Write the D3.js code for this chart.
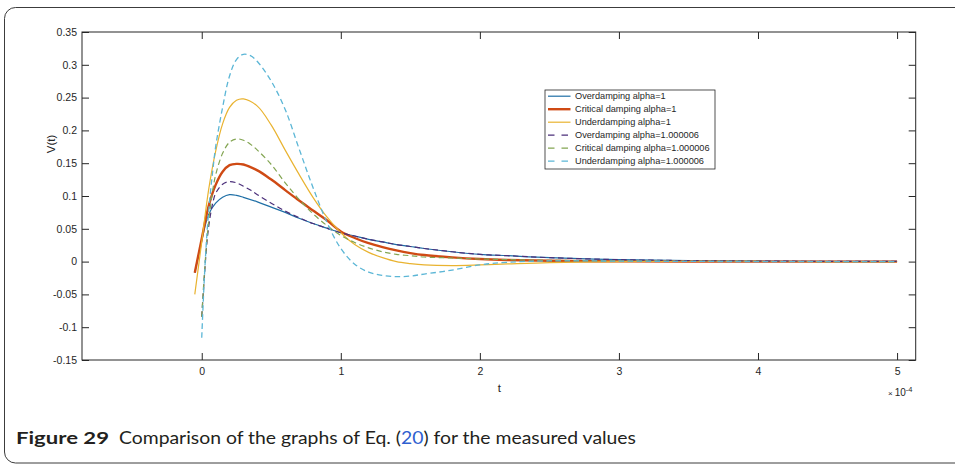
<!DOCTYPE html>
<html>
<head>
<meta charset="utf-8">
<script src="https://cdn.jsdelivr.net/npm/d3@7"></script>
<style>
  html, body { margin: 0; padding: 0; background: #fff; }
  svg { display: block; }
</style>
</head>
<body>
<div id="chart"></div>
<script>
// Time samples (units of 1e-4 s) for the two families of curves
const tSolid = [-0.05, 0, 0.05, 0.1, 0.15, 0.2, 0.25, 0.3, 0.4, 0.5, 0.6, 0.7, 0.8, 0.9, 1.0, 1.1, 1.2, 1.3, 1.4, 1.5, 1.6, 1.8, 2.0, 2.2, 2.5, 3.0, 3.5, 4.0, 4.5, 5.0];
const tDashed = [0, 0.02, 0.04, 0.06, 0.08, 0.1, 0.15, 0.2, 0.25, 0.3, 0.35, 0.4, 0.5, 0.6, 0.7, 0.8, 0.9, 1.0, 1.1, 1.2, 1.3, 1.4, 1.5, 1.6, 1.8, 2.0, 2.2, 2.5, 3.0, 3.5, 4.0, 4.5, 5.0];

// V(t) for alpha = 1
const overdamp1 = [-0.017, 0.032, 0.072, 0.089, 0.098, 0.102, 0.101, 0.098, 0.091, 0.083, 0.075, 0.066, 0.058, 0.051, 0.044, 0.039, 0.034, 0.030, 0.026, 0.023, 0.020, 0.015, 0.011, 0.009, 0.006, 0.003, 0.0015, 0.0008, 0.0004, 0.0002];
const critical1 = [-0.017, 0.035, 0.085, 0.117, 0.137, 0.147, 0.149, 0.148, 0.139, 0.125, 0.109, 0.093, 0.078, 0.063, 0.046, 0.036, 0.028, 0.022, 0.017, 0.013, 0.010, 0.0065, 0.004, 0.0025, 0.0012, 0.0004, 0.0001, 0, 0, 0];
const underdamp1 = [-0.05, 0.03, 0.11, 0.168, 0.21, 0.235, 0.246, 0.248, 0.237, 0.208, 0.170, 0.133, 0.098, 0.068, 0.044, 0.026, 0.014, 0.006, 0.0, -0.003, -0.005, -0.006, -0.005, -0.0035, -0.0015, 0.0, 0.0003, 0.0002, 0, 0];

// V(t) for alpha = 1.000006
const overdamp2 = [-0.084, -0.02, 0.035, 0.068, 0.09, 0.104, 0.118, 0.122, 0.120, 0.115, 0.109, 0.102, 0.089, 0.077, 0.067, 0.058, 0.051, 0.044, 0.039, 0.034, 0.030, 0.026, 0.023, 0.020, 0.015, 0.011, 0.009, 0.006, 0.003, 0.0015, 0.0008, 0.0004, 0.0002];
const critical2 = [-0.084, -0.015, 0.04, 0.08, 0.11, 0.132, 0.165, 0.182, 0.187, 0.185, 0.179, 0.170, 0.148, 0.120, 0.095, 0.073, 0.055, 0.040, 0.029, 0.021, 0.015, 0.011, 0.009, 0.007, 0.0055, 0.004, 0.003, 0.002, 0.001, 0.0005, 0.0002, 0.0001, 0];
const underdamp2 = [-0.116, -0.02, 0.05, 0.10, 0.14, 0.175, 0.235, 0.283, 0.308, 0.316, 0.314, 0.305, 0.275, 0.232, 0.172, 0.113, 0.060, 0.020, -0.004, -0.016, -0.021, -0.023, -0.022, -0.019, -0.013, -0.005, -0.001, 0.001, 0.0008, 0.0003, 0.0001, 0, 0];

const seriesNames = [
  "Overdamping alpha=1",
  "Critical damping alpha=1",
  "Underdamping alpha=1",
  "Overdamping alpha=1.000006",
  "Critical damping alpha=1.000006",
  "Underdamping alpha=1.000006"
];

const xTicks = [0, 1, 2, 3, 4, 5];
const yTicks = [-0.15, -0.1, -0.05, 0, 0.05, 0.1, 0.15, 0.2, 0.25, 0.3, 0.35];

const captionLabel = "Figure 29";
const captionText = ["Comparison of the graphs of Eq. (", "20", ") for the measured values"];

// Build series table from the arrays above
const series = [
  { name: seriesNames[0], t: tSolid,  v: overdamp1,  color: "#1f6fa6", width: 1.2, dash: null },
  { name: seriesNames[1], t: tSolid,  v: critical1,  color: "#cf4a14", width: 2.4, dash: null },
  { name: seriesNames[2], t: tSolid,  v: underdamp1, color: "#e9b330", width: 1.2, dash: null },
  { name: seriesNames[3], t: tDashed, v: overdamp2,  color: "#4b2f7a", width: 1.2, dash: "5.5,3.5" },
  { name: seriesNames[4], t: tDashed, v: critical2,  color: "#83a552", width: 1.2, dash: "5.5,3.5" },
  { name: seriesNames[5], t: tDashed, v: underdamp2, color: "#5bb6d6", width: 1.3, dash: "5.5,3.5" }
];

const W = 955, H = 465;
const plot = { left: 82, right: 915.7, top: 32, bottom: 360 };

const svg = d3.select("#chart").append("svg")
  .attr("width", W).attr("height", H)
  .style("font-family", "'Liberation Sans', Arial, sans-serif");

// Rounded figure frame
svg.append("rect")
  .attr("x", 4.5).attr("y", 7.5)
  .attr("width", 1000).attr("height", 455.5)
  .attr("rx", 11).attr("ry", 11)
  .attr("fill", "none")
  .attr("stroke", "#3c3c3c")
  .attr("stroke-width", 1);

const x = d3.scaleLinear().domain([-0.861, 5.134]).range([plot.left, plot.right]);
const y = d3.scaleLinear().domain([-0.15, 0.35]).range([plot.bottom, plot.top]);

const axisColor = "#262626";
const tickFont = "10.5px";

function styleAxis(g) {
  g.select(".domain").remove();
  g.selectAll(".tick line").attr("stroke", axisColor);
  g.selectAll(".tick text").attr("fill", axisColor)
    .style("font-size", tickFont)
    .style("font-family", "'Liberation Sans', Arial, sans-serif");
}

const fmtY = d => (d === 0 ? "0" : String(+d.toFixed(2)));

svg.append("g")
  .attr("transform", `translate(0,${plot.bottom})`)
  .call(d3.axisBottom(x).tickValues(xTicks).tickSize(-7).tickPadding(8).tickFormat(d3.format("d")))
  .call(styleAxis);

svg.append("g")
  .attr("transform", `translate(0,${plot.top})`)
  .call(d3.axisTop(x).tickValues(xTicks).tickSize(-7).tickFormat(""))
  .call(styleAxis);

svg.append("g")
  .attr("transform", `translate(${plot.left},0)`)
  .call(d3.axisLeft(y).tickValues(yTicks).tickSize(-7).tickPadding(5).tickFormat(fmtY))
  .call(styleAxis);

svg.append("g")
  .attr("transform", `translate(${plot.right},0)`)
  .call(d3.axisRight(y).tickValues(yTicks).tickSize(-7).tickFormat(""))
  .call(styleAxis);

// Axes box
svg.append("rect")
  .attr("x", plot.left).attr("y", plot.top)
  .attr("width", plot.right - plot.left).attr("height", plot.bottom - plot.top)
  .attr("fill", "none").attr("stroke", axisColor).attr("stroke-width", 1);

// Curves
const line = d3.line()
  .x(d => x(d[0]))
  .y(d => y(d[1]))
  .curve(d3.curveCatmullRom.alpha(0.5));

const curves = svg.append("g");
series.forEach(s => {
  const pts = s.t.map((t, i) => [t, s.v[i]]);
  curves.append("path")
    .attr("d", line(pts))
    .attr("fill", "none")
    .attr("stroke", s.color)
    .attr("stroke-width", s.width)
    .attr("stroke-dasharray", s.dash)
    .attr("stroke-linejoin", "round");
});

// Axis labels
svg.append("text")
  .attr("x", (plot.left + plot.right) / 2 + 0.5).attr("y", 392)
  .attr("text-anchor", "middle")
  .attr("fill", axisColor)
  .style("font-size", "11.5px")
  .text("t");

svg.append("text")
  .attr("transform", "translate(55,144) rotate(-90)")
  .attr("text-anchor", "middle")
  .attr("fill", axisColor)
  .style("font-size", "11.5px")
  .text("V(t)");

// Exponent label for the t axis
const expo = svg.append("text")
  .attr("x", 888).attr("y", 396)
  .attr("fill", axisColor)
  .style("font-size", "10px");
expo.append("tspan").style("font-size", "8px").text("\u00d7");
expo.append("tspan").attr("dx", 2).text("10");
expo.append("tspan").attr("dy", -4).style("font-size", "7.5px").text("-4");

// Legend
const legend = svg.append("g").attr("transform", "translate(545,90)");
legend.append("rect")
  .attr("width", 170).attr("height", 79)
  .attr("fill", "#fff")
  .attr("stroke", axisColor).attr("stroke-width", 0.8);

series.forEach((s, i) => {
  const yy = 6.2 + i * 13.0;
  legend.append("line")
    .attr("x1", 3).attr("x2", 25.5)
    .attr("y1", yy).attr("y2", yy)
    .attr("stroke", s.color)
    .attr("stroke-width", s.width)
    .attr("stroke-dasharray", s.dash ? "6.5,7" : null);
  legend.append("text")
    .attr("x", 30).attr("y", yy)
    .attr("dy", "0.35em")
    .attr("fill", axisColor)
    .style("font-size", "9.2px")
    .text(s.name);
});

// Caption
const capFont = "Lato, 'Open Sans', sans-serif";
svg.append("text")
  .attr("x", 16).attr("y", 444)
  .attr("fill", "#231f20")
  .attr("textLength", 93).attr("lengthAdjust", "spacingAndGlyphs")
  .style("font-family", capFont)
  .style("font-size", "17.5px")
  .style("font-weight", "bold")
  .text(captionLabel);

const cap = svg.append("text")
  .attr("x", 119).attr("y", 444)
  .attr("fill", "#231f20")
  .attr("textLength", 517).attr("lengthAdjust", "spacingAndGlyphs")
  .style("font-family", capFont)
  .style("font-size", "17.5px");
cap.append("tspan").text(captionText[0]);
cap.append("tspan").attr("fill", "#2f5fd0").text(captionText[1]);
cap.append("tspan").text(captionText[2]);
</script>
</body>
</html>
